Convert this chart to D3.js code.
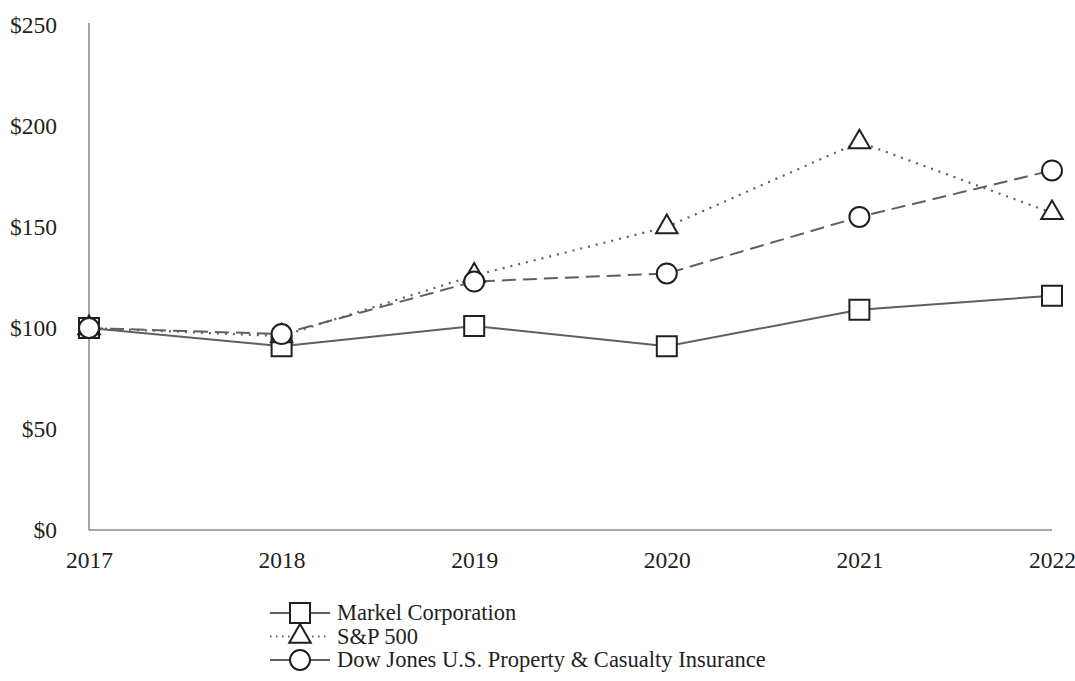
<!DOCTYPE html>
<html>
<head>
<meta charset="utf-8">
<script src="https://cdn.jsdelivr.net/npm/d3@7/dist/d3.min.js"></script>
<style>
  body { margin: 0; background: #fff; }
  svg text { font-family: 'Liberation Serif', 'Times New Roman', serif; fill: #231f20; }
</style>
</head>
<body>
<div class="chart"></div>
<script>
/* values */
var years = ['2017', '2018', '2019', '2020', '2021', '2022']
var markel = [100, 91, 101, 91, 109, 116]
var sp500 = [100, 96, 126, 150, 192, 157]
var dowJones = [100, 97, 123, 127, 155, 178]
var yTicks = [0, 50, 100, 150, 200, 250]
var seriesNames = ['Markel Corporation', 'S&P 500', 'Dow Jones U.S. Property & Casualty Insurance']

;(function () {
  var width = 1075
  var height = 681
  var plotLeft = 89
  var plotRight = 1052
  var plotTop = 25
  var plotBottom = 530

  var svg = d3.select('.chart').append('svg')
      .attr('width', width)
      .attr('height', height)

  var x = d3.scalePoint()
      .domain(years)
      .range([plotLeft, plotRight])

  var y = d3.scaleLinear()
      .domain([0, 250])
      .range([plotBottom, plotTop])

  // axes, labels only; lines drawn by hand
  var yAxis = svg.append('g')
      .attr('transform', 'translate(' + (plotLeft - 32) + ',0)')
      .call(d3.axisLeft(y).tickValues(yTicks).tickSize(0).tickFormat(function (d) { return '$' + d }))
  yAxis.select('.domain').remove()
  yAxis.selectAll('text')
      .attr('x', 0)
      .attr('dy', '0.32em')
      .style('font-size', '23.5px')

  var xAxis = svg.append('g')
      .attr('transform', 'translate(0,' + (plotBottom + 30) + ')')
      .call(d3.axisBottom(x).tickSize(0))
  xAxis.select('.domain').remove()
  xAxis.selectAll('text')
      .attr('y', 0)
      .attr('dy', '0.32em')
      .style('font-size', '23.5px')

  svg.append('line')
      .attr('x1', plotLeft).attr('x2', plotLeft)
      .attr('y1', plotTop - 2).attr('y2', plotBottom)
      .attr('stroke', '#8a8a8c')
      .attr('stroke-width', 1.5)

  svg.append('line')
      .attr('x1', plotLeft).attr('x2', plotRight)
      .attr('y1', plotBottom).attr('y2', plotBottom)
      .attr('stroke', '#8a8a8c')
      .attr('stroke-width', 1.5)

  var series = [
    { name: seriesNames[0], values: markel, dash: null, symbol: d3.symbolSquare, size: 400 },
    { name: seriesNames[1], values: sp500, dash: '2,6', symbol: d3.symbolTriangle, size: 200 },
    { name: seriesNames[2], values: dowJones, dash: '14,7', symbol: d3.symbolCircle, size: 314 }
  ]

  var line = d3.line()
      .x(function (d, i) { return x(years[i]) })
      .y(function (d) { return y(d) })

  series.forEach(function (s) {
    svg.append('path')
        .datum(s.values)
        .attr('d', line)
        .attr('fill', 'none')
        .attr('stroke', '#606062')
        .attr('stroke-width', s.dash === '2,6' ? 2.2 : 2)
        .attr('stroke-dasharray', s.dash)
  })

  series.forEach(function (s) {
    var sym = d3.symbol().type(s.symbol).size(s.size)
    svg.selectAll(null)
        .data(s.values)
        .enter()
        .append('path')
        .attr('d', sym)
        .attr('transform', function (d, i) { return 'translate(' + x(years[i]) + ',' + y(d) + ')' })
        .attr('fill', '#fff')
        .attr('stroke', '#231f20')
        .attr('stroke-width', 2)
  })

  // legend
  var legend = svg.append('g')
      .attr('transform', 'translate(270,613)')

  series.forEach(function (s, i) {
    var g = legend.append('g').attr('transform', 'translate(0,' + (i * 23.5) + ')')
    g.append('line')
        .attr('x1', 0).attr('x2', 60)
        .attr('y1', 0).attr('y2', 0)
        .attr('stroke', '#606062')
        .attr('stroke-width', 2)
        .attr('stroke-dasharray', s.dash === '2,6' ? '1.5,4.5' : null)
    g.append('path')
        .attr('d', d3.symbol().type(s.symbol).size(s.size))
        .attr('transform', 'translate(30,0)')
        .attr('fill', '#fff')
        .attr('stroke', '#231f20')
        .attr('stroke-width', 2)
    g.append('text')
        .attr('x', 67)
        .attr('dy', '0.32em')
        .style('font-size', '22.5px')
        .text(s.name)
  })
})()
</script>
</body>
</html>
